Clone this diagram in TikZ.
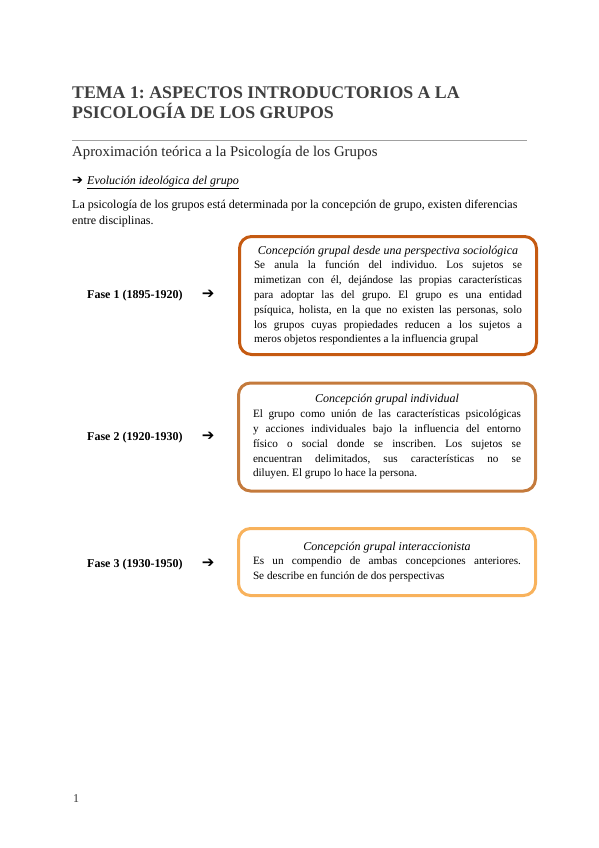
\documentclass[tikz,border=0pt]{standalone}
\usepackage{fontspec}
\setmainfont{Liberation Serif}
\newfontfamily\symfont{DejaVu Sans}
\usetikzlibrary{positioning}
\frenchspacing

\definecolor{titlegray}{HTML}{404040}
\definecolor{rulegray}{HTML}{A0A0A0}
\definecolor{orangeA}{HTML}{C55A11}
\definecolor{orangeB}{HTML}{C47A3C}
\definecolor{orangeC}{HTML}{F8B25C}

% justified, last and title lines of the boxes
\newcommand{\jline}[1]{\makebox[268pt][s]{#1}\\}
\newcommand{\lline}[1]{\makebox[268pt][l]{#1}}
\newcommand{\tline}[1]{\makebox[268pt][c]{\itshape\fontsize{12}{14.8}\selectfont #1}\\}

\begin{document}
\begin{tikzpicture}[x=1pt, y=-1pt,
    plain/.style={anchor=base west, inner sep=0pt, font=\fontsize{12}{14}\selectfont},
    faselbl/.style={plain, font=\bfseries\fontsize{12}{14}\selectfont},
    farrow/.style={inner sep=0pt, font=\symfont\bfseries\fontsize{15}{14}\selectfont},
    concbox/.style={draw=#1, line width=3pt, rounded corners=12pt,
      minimum width=297pt, inner sep=0pt, align=left,
      font=\fontsize{11.2}{14.8}\selectfont}]
  \useasboundingbox (0,0) rectangle (599,848);

  % heading
  \node[plain, font=\bfseries\fontsize{17.8}{20}\selectfont, text=titlegray] (tema) at (72,99)
    {TEMA 1: ASPECTOS INTRODUCTORIOS A LA};
  \node[plain, font=\bfseries\fontsize{17.8}{20}\selectfont, text=titlegray] (tema2) at (72,119)
    {PSICOLOGÍA DE LOS GRUPOS};
  \draw[rulegray, line width=0.6pt] (72,140.5) -- (527,140.5);
  \node[plain, font=\fontsize{14.8}{16}\selectfont, text=black!85] (aprox) at (72,157)
    {Aproximación teórica a la Psicología de los Grupos};

  \node[farrow, anchor=base west, font=\symfont\bfseries\fontsize{13}{14}\selectfont] (bullet) at (72,184) {➔};
  \node[plain, font=\itshape\fontsize{12}{14}\selectfont] (evol) at (87,184)
    {\underline{Evolución ideológica del grupo}};
  \node[plain] (intro) at (72,208)
    {La psicología de los grupos está determinada por la concepción de grupo, existen diferencias};
  \node[plain] (intro2) at (72,224) {entre disciplinas.};

  % phases
  \node[faselbl] (fase1) at (87,298) {Fase 1 (1895-1920)};
  \node[faselbl] (fase2) at (87,440) {Fase 2 (1920-1930)};
  \node[faselbl] (fase3) at (87,567) {Fase 3 (1930-1950)};
  \node[farrow, base right=19pt of fase1] (ar1) {➔};
  \node[farrow, base right=19pt of fase2] (ar2) {➔};
  \node[farrow, base right=19pt of fase3] (ar3) {➔};

  % boxes
  \node[concbox=orangeA, minimum height=118pt] (soc) at (388,295.5) {%
    \tline{Concepción grupal desde una perspectiva sociológica}
    \jline{Se anula la función del individuo. Los sujetos se}
    \jline{mimetizan con él, dejándose las propias características}
    \jline{para adoptar las del grupo. El grupo es una entidad}
    \jline{psíquica, holista, en la que no existen las personas, solo}
    \jline{los grupos cuyas propiedades reducen a los sujetos a}
    \lline{meros objetos respondientes a la influencia grupal}};
  \node[concbox=orangeB, minimum height=108pt] (ind) at (387,437) {%
    \tline{Concepción grupal individual}
    \jline{El grupo como unión de las características psicológicas}
    \jline{y acciones individuales bajo la influencia del entorno}
    \jline{físico o social donde se inscriben. Los sujetos se}
    \jline{encuentran delimitados, sus características no se}
    \lline{diluyen. El grupo lo hace la persona.}};
  \node[concbox=orangeC, minimum height=67pt] (inter) at (387,562) {%
    \tline{Concepción grupal interaccionista}
    \jline{Es un compendio de ambas concepciones anteriores.}
    \lline{Se describe en función de dos perspectivas}};

  \node[plain, text=black!80] (pag) at (73,802) {1};
\end{tikzpicture}
\end{document}
